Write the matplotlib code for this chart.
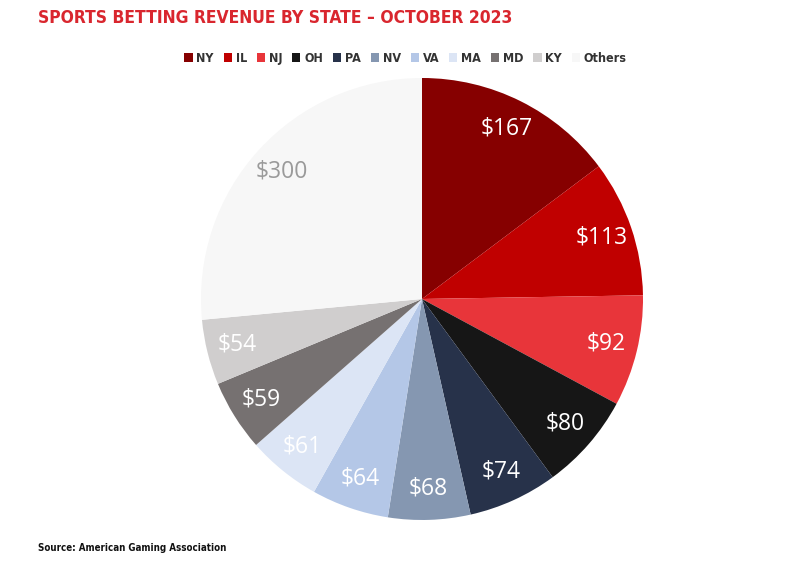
import matplotlib
matplotlib.use("Agg")
import matplotlib.pyplot as plt
from matplotlib.patches import Patch

states = ['NY', 'IL', 'NJ', 'OH', 'PA', 'NV', 'VA', 'MA', 'MD', 'KY', 'Others']
revenue = [167, 113, 92, 80, 74, 68, 64, 61, 59, 54, 300]
colors = ['#860000', '#c00000', '#e8353a', '#161616', '#27324a', '#8597b1',
          '#b4c7e7', '#dce5f5', '#767171', '#d0cece', '#f7f7f7']
label_colors = ['white'] * 10 + ['#9a9a9a']

cond = ['DejaVu Sans']
label_font = ['Open Sans', 'DejaVu Sans']

fig = plt.figure(figsize=(8, 5.73), dpi=100)
ax = fig.add_axes([0.25125, 0.0925, 0.5525, 0.7714])

wedges, texts = ax.pie(revenue, colors=colors, startangle=90, counterclock=False,
                       labels=[f"${v}" for v in revenue], labeldistance=0.86,
                       wedgeprops={'linewidth': 0})
for t, c in zip(texts, label_colors):
    t.set_color(c)
    t.set_fontsize(16.5)
    t.set_family(label_font)
    t.set_ha('center')
    t.set_va('center')
ax.set_xlim(-1, 1)
ax.set_ylim(-1, 1)
ax.set_aspect('equal')

fig.text(0.047, 0.968, "SPORTS BETTING REVENUE BY STATE – OCTOBER 2023",
         color='#d9262e', fontsize=12.5, fontweight='bold', family=cond,
         stretch='condensed', ha='left', va='center')

handles = [Patch(facecolor=c, edgecolor='none') for c in colors]
fig.legend(handles, states, loc='center', bbox_to_anchor=(0.507, 0.898), ncol=11,
           frameon=False, handlelength=0.65, handleheight=0.65, handletextpad=0.3,
           columnspacing=0.8,
           prop={'family': cond, 'weight': 'bold', 'size': 9, 'stretch': 'condensed'},
           labelcolor='#333333')

fig.text(0.047, 0.043, "Source: American Gaming Association",
         color='#111111', fontsize=7, fontweight='bold', family=cond,
         stretch='condensed', ha='left', va='center')

fig.savefig("out.png", dpi=100)
